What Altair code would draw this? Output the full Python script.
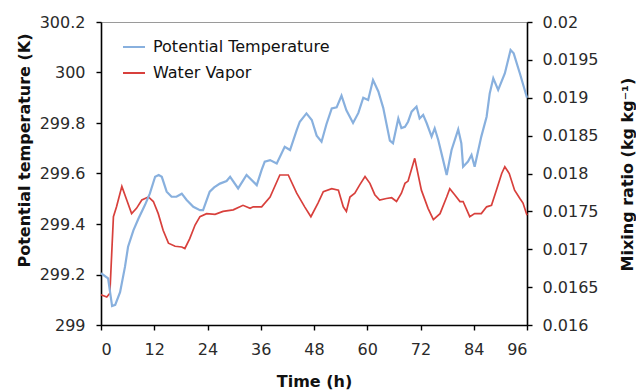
import altair as alt
import pandas as pd

# ---- data ----
series_names = ["Potential Temperature", "Water Vapor"]
series_colors = ["#88B0DE", "#D8403C"]

theta_time = [0.0, 1.6, 2.5, 3.2, 4.3, 5.4, 6.1, 7.3, 8.4, 9.9, 11.0, 12.2, 13.0, 13.7,
              14.8, 15.9, 17.0, 18.2, 19.3, 20.8, 22.3, 23.0, 24.5, 25.5, 26.8, 28.3,
              29.1, 30.9, 32.8, 35.1, 36.2, 36.9, 38.1, 39.6, 41.4, 42.6, 44.1, 44.8,
              46.3, 47.5, 48.6, 49.7, 50.8, 52.0, 53.1, 54.2, 55.3, 56.8, 58.0, 59.1,
              60.2, 61.3, 62.5, 63.6, 65.1, 65.8, 67.0, 67.7, 68.5, 69.2, 70.0, 71.1,
              71.8, 72.6, 73.4, 74.5, 75.2, 76.0, 77.1, 77.9, 79.0, 80.5, 81.2, 81.6,
              82.7, 83.5, 84.2, 85.7, 86.9, 87.6, 88.4, 89.5, 91.0, 92.3, 93.0, 94.4, 96.0]
theta_values = [299.205, 299.185, 299.075, 299.080, 299.130, 299.230, 299.310, 299.375,
                299.420, 299.475, 299.520, 299.587, 299.594, 299.587, 299.528, 299.508,
                299.508, 299.520, 299.495, 299.468, 299.455, 299.455, 299.528, 299.545,
                299.560, 299.570, 299.587, 299.541, 299.594, 299.554, 299.614, 299.647,
                299.653, 299.640, 299.706, 299.693, 299.772, 299.805, 299.838, 299.812,
                299.750, 299.726, 299.795, 299.858, 299.862, 299.908, 299.850, 299.800,
                299.840, 299.900, 299.891, 299.970, 299.925, 299.860, 299.730, 299.720,
                299.818, 299.780, 299.785, 299.805, 299.845, 299.865, 299.818, 299.832,
                299.799, 299.746, 299.779, 299.733, 299.653, 299.594, 299.693, 299.775,
                299.720, 299.627, 299.647, 299.673, 299.627, 299.746, 299.825, 299.917,
                299.977, 299.931, 299.996, 300.089, 300.076, 299.996, 299.900]

wv_time = [0.0, 1.3, 2.0, 2.8, 3.5, 4.7, 5.8, 6.9, 8.0, 9.2, 10.7, 11.8, 12.9, 14.0,
           15.2, 16.7, 18.2, 18.9, 20.0, 21.2, 22.3, 23.8, 25.7, 27.5, 29.8, 32.0,
           33.6, 34.3, 36.2, 38.1, 40.3, 42.2, 44.1, 45.9, 47.3, 48.9, 50.1, 52.0,
           53.5, 54.6, 55.3, 56.1, 57.2, 58.3, 59.5, 60.6, 61.7, 62.8, 64.3, 65.5,
           66.6, 67.7, 68.5, 69.2, 70.7, 72.2, 73.7, 74.9, 76.4, 77.9, 78.6, 79.7,
           80.9, 81.6, 83.1, 84.2, 85.7, 86.9, 88.0, 89.1, 90.3, 91.0, 92.0, 93.2,
           94.4, 95.1, 96.0]
wv_values = [0.01640, 0.01637, 0.01642, 0.01743, 0.01756, 0.01783, 0.01765, 0.01747,
             0.01754, 0.01765, 0.01769, 0.01763, 0.01747, 0.01725, 0.01708, 0.01704,
             0.01703, 0.01701, 0.01714, 0.01732, 0.01743, 0.01747, 0.01746, 0.01750,
             0.01752, 0.01758, 0.01754, 0.01756, 0.01756, 0.01769, 0.01798, 0.01798,
             0.01774, 0.01756, 0.01743, 0.01761, 0.01776, 0.01780, 0.01778, 0.01756,
             0.01750, 0.01769, 0.01774, 0.01785, 0.01796, 0.01787, 0.01772, 0.01765,
             0.01767, 0.01768, 0.01763, 0.01774, 0.01787, 0.01790, 0.01820, 0.01778,
             0.01754, 0.01739, 0.01747, 0.01769, 0.01780, 0.01772, 0.01763, 0.01763,
             0.01743, 0.01747, 0.01747, 0.01756, 0.01758, 0.01778, 0.01800, 0.01809,
             0.01800, 0.01778, 0.01767, 0.01761, 0.01745]

x_ticks = [0, 12, 24, 36, 48, 60, 72, 84, 96]
left_ticks = [299, 299.2, 299.4, 299.6, 299.8, 300, 300.2]
right_ticks = [0.016, 0.0165, 0.017, 0.0175, 0.018, 0.0185, 0.019, 0.0195, 0.02]

df_theta = pd.DataFrame({"time": theta_time, "value": theta_values, "series": series_names[0]})
df_wv = pd.DataFrame({"time": wv_time, "value": wv_values, "series": series_names[1]})

FONT = "DejaVu Sans"

color = alt.Color(
    "series:N",
    scale=alt.Scale(domain=series_names, range=series_colors),
    legend=alt.Legend(
        title=None, orient="none", legendX=21, legendY=13,
        symbolType="stroke", symbolSize=484, symbolStrokeWidth=2,
        labelFontSize=16, labelFont=FONT, labelColor="#111", labelLimit=0,
        labelOffset=7, rowPadding=6, padding=0,
    ),
)

x_enc = alt.X(
    "time:Q",
    scale=alt.Scale(domain=[0, 96], nice=False, zero=False),
    axis=alt.Axis(values=x_ticks, title="Time (h)", labelPadding=11, titleY=56,
                  titleBaseline="middle"),
)

wv_line = alt.Chart(df_wv).mark_line(strokeWidth=1.7).encode(
    x=x_enc,
    y=alt.Y("value:Q",
            scale=alt.Scale(domain=[0.016, 0.02], nice=False, zero=False),
            axis=alt.Axis(orient="right", values=right_ticks, format="~g",
                          title="Mixing ratio (kg kg⁻¹)", titleAngle=270,
                          titleX=100, titleY=152, titleBaseline="middle",
                          titleAlign="center", labelPadding=10)),
    color=color,
)

theta_line = alt.Chart(df_theta).mark_line(strokeWidth=2.2).encode(
    x=x_enc,
    y=alt.Y("value:Q",
            scale=alt.Scale(domain=[299, 300.2], nice=False, zero=False),
            axis=alt.Axis(orient="left", values=left_ticks, format="~f",
                          title="Potential temperature (K)", titleAngle=270,
                          titleX=-77, titleY=128, titleBaseline="middle",
                          titleAlign="center", labelPadding=11)),
    color=color,
)

chart = (
    alt.layer(wv_line, theta_line)
    .resolve_scale(y="independent")
    .properties(
        width=426, height=303,
        autosize=alt.AutoSizeParams(type="none"),
        padding={"left": 101, "top": 22, "right": 109, "bottom": 65},
        background="white",
    )
    .configure_view(stroke="#9a9a9a", strokeWidth=1)
    .configure_axis(
        grid=False, domainColor="#000", domainWidth=1.6,
        tickColor="#000", tickWidth=1.4, tickSize=5,
        labelFont=FONT, labelFontSize=16, labelColor="#2a2a2a",
        titleFont=FONT, titleFontSize=16, titleFontWeight="bold", titleColor="#111",
    )
)

chart.save("out.html", embed_options={"renderer": "svg", "actions": False})
